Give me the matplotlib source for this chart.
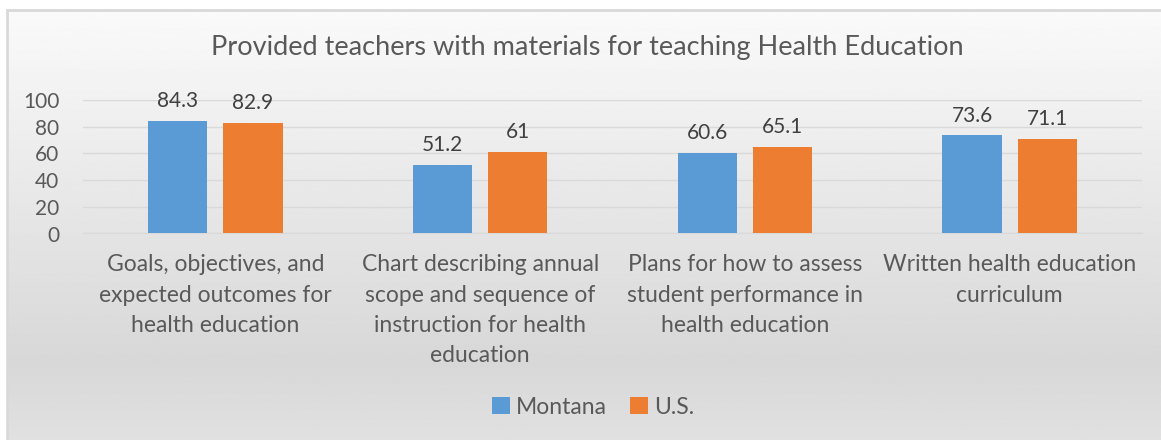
import numpy as np
import matplotlib
matplotlib.use("Agg")
import matplotlib.pyplot as plt
from matplotlib.patches import Rectangle

categories = [
    "Goals, objectives, and\nexpected outcomes for\nhealth education",
    "Chart describing annual\nscope and sequence of\ninstruction for health\neducation",
    "Plans for how to assess\nstudent performance in\nhealth education",
    "Written health education\ncurriculum",
]
montana = [84.3, 51.2, 60.6, 73.6]
us = [82.9, 61, 65.1, 71.1]
yticks = [0, 20, 40, 60, 80, 100]

plt.rcParams['font.family'] = ['Lato', 'DejaVu Sans']
text_color = '#595959'

W, H = 1161, 440
fig = plt.figure(figsize=(W / 100, H / 100), dpi=100)
fig.patch.set_facecolor('white')

# background gradient of the chart box
bg = fig.add_axes([0, 0, 1, 1], zorder=0)
bg.set_axis_off()
rows = np.linspace(0, 1, 200)
shade = np.interp(rows, [0, 0.82, 1.0], [0.98, 0.845, 0.88])
grad = np.repeat(shade[:, None], 2, axis=1)
x0, y0 = 7 / W, 1 - 10 / H
bg.imshow(grad, cmap='gray', vmin=0, vmax=1, aspect='auto',
          extent=[x0, 1, 0, y0], origin='upper')
bg.add_patch(Rectangle((x0, -0.01), 1.0, y0 + 0.01, fill=False,
                       edgecolor='#D9D9D9', linewidth=2))
bg.set_xlim(0, 1)
bg.set_ylim(0, 1)

ax = fig.add_axes([83 / W, 1 - 233.5 / H, (1142 - 83) / W, (233.5 - 100) / H], zorder=1)
ax.patch.set_alpha(0)

x = np.arange(len(categories))
bw = 0.224
off = 0.142
b1 = ax.bar(x - off, montana, bw, color='#5B9BD5', label='Montana', zorder=3)
b2 = ax.bar(x + off, us, bw, color='#ED7D31', label='U.S.', zorder=3)
for bars in (b1, b2):
    ax.bar_label(bars, labels=[f"{v:g}" for v in bars.datavalues], padding=7,
                 fontsize=15, color='#404040')

ax.set_xlim(-0.5, len(categories) - 0.5)
ax.set_ylim(0, 100)
ax.set_yticks(yticks)
ax.yaxis.grid(True, color='#D9D9D9', linewidth=1, zorder=0)
ax.set_xticks(x)
ax.set_xticklabels(categories, fontsize=16.5, color=text_color, linespacing=1.55)
ax.tick_params(axis='y', labelsize=15, labelcolor=text_color, length=0, pad=17)
ax.tick_params(axis='x', length=0, pad=15)
for s in ax.spines.values():
    s.set_visible(False)
ax.spines['bottom'].set_visible(True)
ax.spines['bottom'].set_color('#D9D9D9')

fig.text(587 / W, 1 - 47 / H, "Provided teachers with materials for teaching Health Education",
         ha='center', va='center', fontsize=19.5, color=text_color)

fig.legend(loc='center', bbox_to_anchor=(593 / W, 1 - 407 / H), ncol=2, frameon=False,
           fontsize=16.5, handlelength=0.8, handleheight=0.8, handletextpad=0.25,
           columnspacing=1.0, labelcolor=text_color)

fig.savefig('out.png', dpi=100)
